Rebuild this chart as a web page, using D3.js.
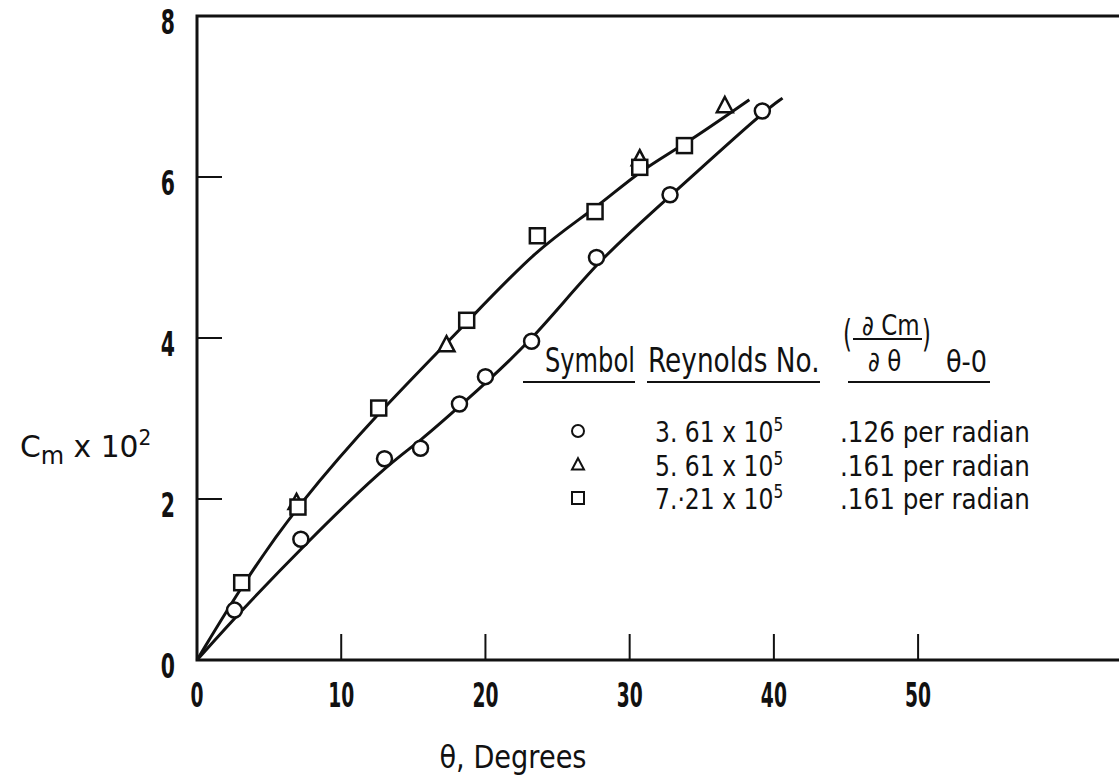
<!DOCTYPE html>
<html>
<head>
<meta charset="utf-8">
<script src="https://cdn.jsdelivr.net/npm/d3@7"></script>
<style>
  body { margin: 0; background: #fff; }
  svg { display: block; }
  text { font-family: "DejaVu Sans", "Liberation Sans", sans-serif; fill: #111; }
</style>
</head>
<body>
<svg id="chart"></svg>
<script>
// measured points, theta in degrees, Cm x 10^2
const circlePts = [[2.6, 0.62], [7.2, 1.5], [13.0, 2.5], [15.5, 2.63], [18.2, 3.18], [20.0, 3.52], [23.2, 3.96], [27.7, 5.0], [32.8, 5.78], [39.2, 6.82]];
const trianglePts = [[6.9, 1.95], [17.3, 3.91], [30.7, 6.22], [36.6, 6.88]];
const squarePts = [[3.1, 0.96], [7.0, 1.9], [12.6, 3.13], [18.7, 4.22], [23.6, 5.27], [27.6, 5.57], [30.7, 6.12], [33.8, 6.39]];

// faired curves as drawn
const lowerCurve = [[0, 0], [3, 0.6], [7.5, 1.44], [13, 2.4], [15.5, 2.72], [18.2, 3.15], [23.2, 3.95], [27.7, 4.95], [32.8, 5.76], [39.2, 6.8], [40.6, 6.98]];
const upperCurve = [[0, 0], [3.3, 0.98], [7, 1.93], [12.7, 3.1], [18.5, 4.15], [23.6, 5.12], [27.6, 5.6], [30.7, 6.08], [33.8, 6.4], [38.3, 6.96]];

const xTicks = [0, 10, 20, 30, 40, 50];
const yTicks = [0, 2, 4, 6, 8];

const legendSyms = ["circle", "triangle", "square"];
const legendRe = ["3. 61 x 10", "5. 61 x 10", "7.·21 x 10"];
const legendSlope = [".126 per radian", ".161 per radian", ".161 per radian"];

const width = 1119;
const height = 775;

const svg = d3.select("#chart").attr("width", width).attr("height", height);

const x = d3.scaleLinear().domain([0, 64]).range([197, 1120]);
const y = d3.scaleLinear().domain([0, 8]).range([660, 16]);

// the scanned lettering is a condensed face, so squeeze text horizontally
function label(g, tx, ty, size, sx, anchor) {
    return g.append("text")
        .attr("transform", "translate(" + tx + "," + ty + ") scale(" + sx + ",1)")
        .attr("font-size", size + "px")
        .attr("text-anchor", anchor || "start");
}

// frame: left, top, bottom (right side runs off the page)
const frame = svg.append("g").attr("class", "frame");
frame.append("path")
    .attr("fill", "none")
    .attr("stroke", "#111")
    .attr("stroke-width", 3)
    .attr("d", "M" + x.range()[1] + "," + y(8) + " H" + x(0) + " V" + y(0) + " H" + x.range()[1]);

// inward ticks
frame.selectAll(".xt")
    .data(xTicks.filter(function (d) { return d > 0; }))
    .enter()
    .append("line")
    .attr("x1", function (d) { return x(d) })
    .attr("x2", function (d) { return x(d) })
    .attr("y1", y(0))
    .attr("y2", y(0) - 26)
    .attr("stroke", "#111")
    .attr("stroke-width", 2);

frame.selectAll(".yt")
    .data(yTicks.filter(function (d) { return d > 0 && d < 8; }))
    .enter()
    .append("line")
    .attr("x1", x(0))
    .attr("x2", x(0) + 25)
    .attr("y1", function (d) { return y(d) })
    .attr("y2", function (d) { return y(d) })
    .attr("stroke", "#111")
    .attr("stroke-width", 2);

// tick labels
const tl = svg.append("g").attr("font-weight", "bold");
xTicks.forEach(function (d) {
    label(tl, x(d), 707, 34, 0.55, "middle").text(d);
});
yTicks.forEach(function (d) {
    label(tl, 175, y(d) + 18, 34, 0.6, "end").text(d);
});

// axis titles
const yTitle = label(svg, 20, 457, 31, 0.96);
yTitle.append("tspan").text("C");
yTitle.append("tspan").attr("dy", 7).attr("font-size", "25px").text("m");
yTitle.append("tspan").attr("dy", -7).text(" x 10");
yTitle.append("tspan").attr("dy", -12).attr("font-size", "21px").text("2");

label(svg, 513, 768, 32, 0.85, "middle").text("θ,  Degrees");

// curves
const line = d3.line()
    .x(function (d) { return x(d[0]) })
    .y(function (d) { return y(d[1]) })
    .curve(d3.curveBasis);

[lowerCurve, upperCurve].forEach(function (c) {
    svg.append("path")
        .datum(c)
        .attr("fill", "none")
        .attr("stroke", "#111")
        .attr("stroke-width", 3)
        .attr("d", line);
});

// markers
function drawSymbol(g, type, cx, cy, s, sw) {
    if (type === "circle") {
        g.append("circle").attr("cx", cx).attr("cy", cy).attr("r", s / 2)
            .attr("fill", "#fff").attr("stroke", "#111").attr("stroke-width", sw);
    } else if (type === "square") {
        g.append("rect").attr("x", cx - s / 2).attr("y", cy - s / 2).attr("width", s).attr("height", s)
            .attr("fill", "#fff").attr("stroke", "#111").attr("stroke-width", sw);
    } else {
        const h = s * 0.95;
        g.append("path")
            .attr("d", "M" + cx + "," + (cy - h * 0.6) + " L" + (cx + s / 2) + "," + (cy + h * 0.4) + " L" + (cx - s / 2) + "," + (cy + h * 0.4) + " Z")
            .attr("fill", "#fff").attr("stroke", "#111").attr("stroke-width", sw);
    }
}

const marks = svg.append("g").attr("class", "marks");
circlePts.forEach(function (p) { drawSymbol(marks, "circle", x(p[0]), y(p[1]), 15, 2.5); });
trianglePts.forEach(function (p) { drawSymbol(marks, "triangle", x(p[0]), y(p[1]), 16, 2.5); });
squarePts.forEach(function (p) { drawSymbol(marks, "square", x(p[0]), y(p[1]), 15, 2.5); });

// legend table
const lg = svg.append("g").attr("class", "legend");

label(lg, 545, 372, 34, 0.71).text("Symbol");
label(lg, 648, 372, 34, 0.775).text("Reynolds No.");

// d Cm / d theta header
label(lg, 862, 335, 28, 0.82).text("∂ Cm");
lg.append("line").attr("x1", 853).attr("x2", 922).attr("y1", 339).attr("y2", 339).attr("stroke", "#111").attr("stroke-width", 2);
label(lg, 868, 371, 28, 0.82).text("∂ θ");
label(lg, 843, 346, 38, 0.6).text("(");
label(lg, 922, 346, 38, 0.6).text(")");
label(lg, 946, 372, 30, 0.85).text("θ-0");

[[523, 635], [647, 820], [848, 990]].forEach(function (u) {
    lg.append("line").attr("x1", u[0]).attr("x2", u[1]).attr("y1", 382).attr("y2", 382)
        .attr("stroke", "#111").attr("stroke-width", 2);
});

const rowY = [431, 465, 498];
legendSyms.forEach(function (s, i) {
    drawSymbol(lg, s, 578, rowY[i], 12, 2);
    const t = label(lg, 655, rowY[i] + 11, 29, 0.81);
    t.append("tspan").text(legendRe[i]);
    t.append("tspan").attr("dy", -11).attr("font-size", "19px").text("5");
    label(lg, 840, rowY[i] + 11, 29, 0.85).text(legendSlope[i]);
});
</script>
</body>
</html>
